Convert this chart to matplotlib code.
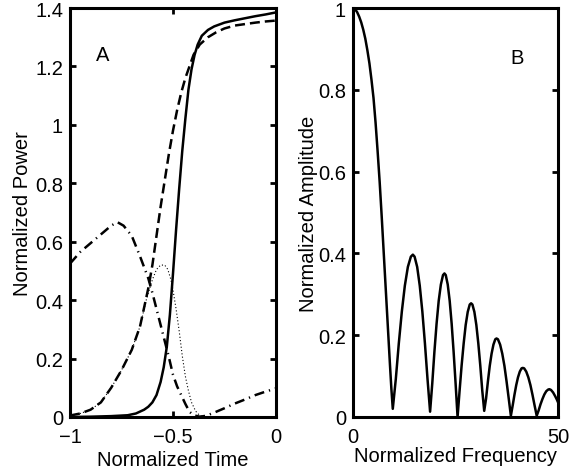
import matplotlib
matplotlib.use("Agg")
import matplotlib.pyplot as plt

plt.rcParams["font.family"] = ["Liberation Sans", "DejaVu Sans"]
plt.rcParams["font.size"] = 14.5

# ---- panel A: normalized power vs normalized time ----
solid_t = [-1, -0.9, -0.8, -0.72, -0.68, -0.64, -0.62, -0.6, -0.58, -0.56, -0.545, -0.53,
           -0.515, -0.5, -0.485, -0.47, -0.455, -0.44, -0.425, -0.41, -0.395, -0.38, -0.36,
           -0.33, -0.3, -0.25, -0.2, -0.15, -0.1, -0.05, 0]
solid_p = [0, 0.001, 0.003, 0.006, 0.012, 0.025, 0.035, 0.05, 0.075, 0.12, 0.17, 0.24,
           0.35, 0.49, 0.64, 0.78, 0.91, 1.02, 1.12, 1.19, 1.24, 1.275, 1.305,
           1.325, 1.337, 1.35, 1.358, 1.365, 1.372, 1.378, 1.385]

dashed_t = [-1, -0.95, -0.9, -0.85, -0.8, -0.75, -0.7, -0.66, -0.62, -0.6, -0.58, -0.56,
            -0.54, -0.52, -0.5, -0.48, -0.46, -0.44, -0.42, -0.4, -0.37, -0.33, -0.29,
            -0.25, -0.2, -0.15, -0.1, -0.05, 0]
dashed_p = [0.005, 0.012, 0.025, 0.05, 0.10, 0.16, 0.23, 0.31, 0.44, 0.52, 0.62, 0.72,
            0.81, 0.90, 0.98, 1.05, 1.11, 1.16, 1.2, 1.24, 1.275, 1.3, 1.317,
            1.33, 1.34, 1.345, 1.35, 1.354, 1.357]

dashdot_t = [-1, -0.95, -0.9, -0.85, -0.8, -0.77, -0.74, -0.7, -0.66, -0.62, -0.6, -0.58,
             -0.56, -0.54, -0.52, -0.5, -0.48, -0.46, -0.44, -0.42, -0.4, -0.37, -0.34,
             -0.3, -0.25, -0.2, -0.15, -0.1, -0.05, 0]
dashdot_p = [0.525, 0.565, 0.595, 0.625, 0.655, 0.667, 0.655, 0.62, 0.55, 0.475, 0.425, 0.37,
             0.315, 0.26, 0.205, 0.145, 0.105, 0.075, 0.045, 0.018, 0.006, 0.001, 0.004,
             0.015, 0.03, 0.046, 0.06, 0.075, 0.087, 0.098]

dotted_t = [-1, -0.95, -0.9, -0.85, -0.8, -0.75, -0.7, -0.66, -0.63, -0.6, -0.58, -0.56,
            -0.54, -0.525, -0.51, -0.5, -0.485, -0.47, -0.455, -0.44, -0.425, -0.41, -0.39,
            -0.37, -0.35, -0.3]
dotted_p = [0.005, 0.012, 0.025, 0.05, 0.10, 0.16, 0.23, 0.31, 0.40, 0.47, 0.505, 0.52,
            0.52, 0.505, 0.47, 0.435, 0.37, 0.295, 0.21, 0.14, 0.09, 0.05, 0.02,
            0.005, 0.0, 0.0]

a_xticks = [-1, -0.5, 0]
a_xticklabels = ["\u22121", "\u22120.5", "0"]
a_yticks = [0, 0.2, 0.4, 0.6, 0.8, 1.0, 1.2, 1.4]
a_yticklabels = ["0", "0.2", "0.4", "0.6", "0.8", "1", "1.2", "1.4"]

# ---- panel B: normalized amplitude vs normalized frequency ----
freq = [0, 0.5, 1, 1.5, 2, 2.5, 3, 3.5, 4, 4.5, 5, 5.5, 6, 6.5, 7, 7.5, 8, 8.5, 9, 9.35, 9.7,
        10.44, 11.17, 11.91, 12.64, 13.38, 14.11, 14.6,
        15.02, 15.65, 16.28, 16.91, 17.54, 18.17, 18.8,
        19.33, 19.85, 20.38, 20.9, 21.43, 21.95, 22.3,
        22.62, 23.1, 23.58, 24.06, 24.54, 25.02, 25.5,
        26.0, 26.49, 26.99, 27.48, 27.98, 28.47, 28.8,
        29.12, 29.6, 30.08, 30.56, 31.04, 31.52, 32.0,
        32.45, 32.9, 33.35, 33.8, 34.25, 34.7, 35.0,
        35.35, 35.88, 36.4, 36.93, 37.45, 37.98, 38.5,
        38.94, 39.37, 39.81, 40.24, 40.68, 41.11, 41.4,
        41.74, 42.25, 42.76, 43.27, 43.78, 44.29, 44.8,
        45.27, 45.73, 46.2, 46.66, 47.13, 47.59, 47.9,
        48.3, 48.8, 49.3, 49.7, 50]
amp = [1.0, 0.997, 0.99, 0.979, 0.965, 0.947, 0.925, 0.897, 0.865, 0.825, 0.78, 0.72, 0.65,
       0.575, 0.49, 0.40, 0.31, 0.22, 0.13, 0.07, 0.02,
       0.093, 0.18, 0.258, 0.321, 0.367, 0.392, 0.397,
       0.392, 0.367, 0.321, 0.258, 0.18, 0.093, 0.013,
       0.082, 0.159, 0.228, 0.284, 0.324, 0.347, 0.351,
       0.347, 0.324, 0.284, 0.228, 0.159, 0.082, 0.0,
       0.065, 0.126, 0.18, 0.225, 0.257, 0.275, 0.278,
       0.275, 0.257, 0.225, 0.18, 0.126, 0.065, 0.015,
       0.045, 0.087, 0.125, 0.155, 0.177, 0.19, 0.192,
       0.19, 0.177, 0.155, 0.125, 0.087, 0.045, 0.003,
       0.028, 0.054, 0.078, 0.097, 0.111, 0.119, 0.12,
       0.119, 0.111, 0.097, 0.078, 0.054, 0.028, 0.003,
       0.016, 0.031, 0.044, 0.055, 0.063, 0.067, 0.068,
       0.066, 0.06, 0.051, 0.043, 0.036]

b_xticks = [0, 50]
b_xticklabels = ["0", "50"]
b_yticks = [0, 0.2, 0.4, 0.6, 0.8, 1.0]
b_yticklabels = ["0", "0.2", "0.4", "0.6", "0.8", "1"]


def style_axes(ax):
    for sp in ax.spines.values():
        sp.set_linewidth(2.2)
    ax.tick_params(direction="in", length=4, width=2, top=True, right=True)
    ax.tick_params(axis="x", pad=7)
    ax.tick_params(axis="y", pad=5)


fig = plt.figure(figsize=(5.69, 4.77), dpi=100)
axA = fig.add_axes([0.123, 0.1237, 0.362, 0.8574])
axB = fig.add_axes([0.6204, 0.1237, 0.3603, 0.8574])

lw = 1.8
axA.plot(solid_t, solid_p, color="black", lw=lw)
axA.plot(dashed_t, dashed_p, color="black", lw=lw, linestyle=(0, (4, 2)))
axA.plot(dashdot_t, dashdot_p, color="black", lw=lw, linestyle=(0, (4, 2, 0.5, 2)))
axA.plot(dotted_t, dotted_p, color="black", lw=0.8, linestyle=(0, (1, 2)))
axA.set_xlim(-1, 0)
axA.set_ylim(0, 1.4)
axA.set_xticks(a_xticks)
axA.set_xticklabels(a_xticklabels)
axA.set_yticks(a_yticks)
axA.set_yticklabels(a_yticklabels)
axA.set_xlabel("Normalized Time", labelpad=3)
axA.set_ylabel("Normalized Power", labelpad=2)
axA.text(-0.875, 1.24, "A", ha="left", va="center")
style_axes(axA)

axB.plot(freq, amp, color="black", lw=lw)
axB.set_xlim(0, 50)
axB.set_ylim(0, 1)
axB.set_xticks(b_xticks)
axB.set_xticklabels(b_xticklabels)
axB.set_yticks(b_yticks)
axB.set_yticklabels(b_yticklabels)
axB.set_xlabel("Normalized Frequency", labelpad=0)
axB.set_ylabel("Normalized Amplitude", labelpad=0)
axB.text(38.5, 0.88, "B", ha="left", va="center")
style_axes(axB)

fig.savefig("out.png", dpi=100)
